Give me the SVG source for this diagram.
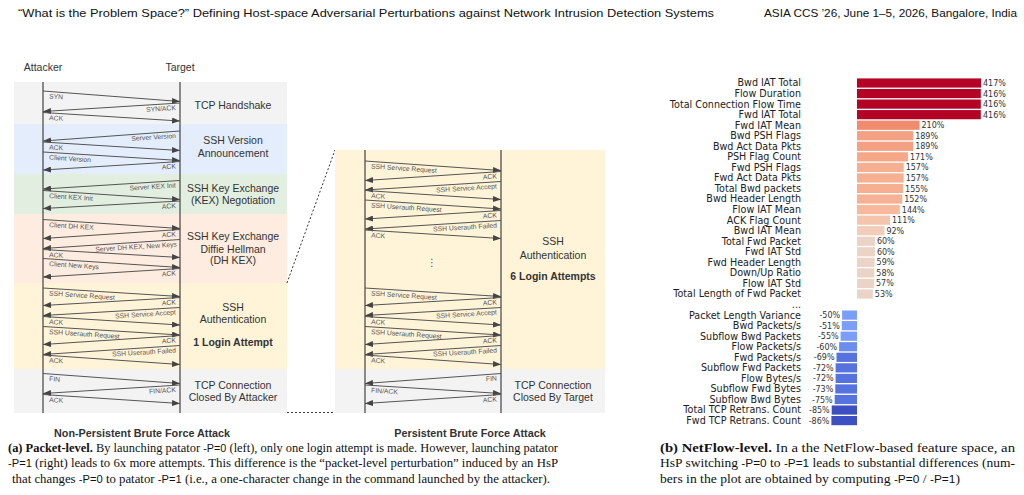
<svg xmlns="http://www.w3.org/2000/svg" width="1024" height="495" viewBox="0 0 1024 495">
<defs>
<marker id="ah" markerUnits="userSpaceOnUse" markerWidth="8" markerHeight="6" refX="8" refY="3" orient="auto">
<path d="M0,0 L8,3 L0,6 z" fill="#444"/>
</marker>
</defs>
<style>
.hdr{font-family:"Liberation Sans",Arial,sans-serif;font-size:11px;fill:#111}
.bt{font-family:"Liberation Sans",Arial,sans-serif;font-size:10.5px;fill:#333;text-anchor:middle}
.btb{font-family:"Liberation Sans",Arial,sans-serif;font-size:10.5px;fill:#333;text-anchor:middle;font-weight:bold}
.lbl{font-family:"Liberation Sans",Arial,sans-serif;font-size:6.8px;fill:#555}
.lr{font-family:"Liberation Sans",Arial,sans-serif;font-size:6.8px;fill:#555;text-anchor:end}
.msg{stroke:#555;stroke-width:1;marker-end:url(#ah)}
.life{stroke:#444;stroke-width:1.2}
.fl{font-family:"DejaVu Sans",sans-serif;font-size:9.6px;fill:#222;text-anchor:end}
.val{font-family:"DejaVu Sans",sans-serif;font-size:8px;fill:#333}
.valn{font-family:"DejaVu Sans",sans-serif;font-size:8px;fill:#333;text-anchor:end}
.cap{font-family:"Liberation Serif","Times New Roman",serif;font-size:12.6px;fill:#111}
.sf{font-family:"Liberation Sans",Arial,sans-serif;font-size:11px}
.sub{font-family:"Liberation Sans",Arial,sans-serif;font-size:10.8px;font-weight:bold;fill:#333;text-anchor:middle}
.dot{stroke:#333;stroke-width:1;stroke-dasharray:2 2;fill:none}
</style>

<g id="header">
<text class="hdr" x="18" y="17" textLength="696" lengthAdjust="spacingAndGlyphs">“What is the Problem Space?” Defining Host-space Adversarial Perturbations against Network Intrusion Detection Systems</text>
<text class="hdr" x="764" y="17" textLength="253" lengthAdjust="spacingAndGlyphs">ASIA CCS ’26, June 1–5, 2026, Bangalore, India</text>
</g>

<!-- Left sequence diagram -->
<g id="left-bands">
<rect x="14" y="82" width="273" height="42" fill="#f3f3f3"/>
<rect x="14" y="124" width="273" height="50" fill="#e4edfb"/>
<rect x="14" y="174" width="273" height="40" fill="#e2eee0"/>
<rect x="14" y="214" width="273" height="69" fill="#fdecdf"/>
<rect x="14" y="283" width="273" height="86" fill="#fff3d8"/>
<rect x="14" y="369" width="273" height="44" fill="#f3f3f3"/>
</g>
<g id="left-actors">
<text class="bt" x="43" y="71">Attacker</text>
<text class="bt" x="180" y="71">Target</text>
<line class="life" x1="43" y1="82" x2="43" y2="413"/>
<line class="life" x1="180" y1="82" x2="180" y2="413"/>
</g>
<g id="left-phase-tcp"><text class="bt" x="233" y="109.4">TCP Handshake</text></g>
<g id="left-phase-version"><text class="bt" x="233" y="144.4">SSH Version</text><text class="bt" x="233" y="157">Announcement</text></g>
<g id="left-phase-kex"><text class="bt" x="233" y="192">SSH Key Exchange</text><text class="bt" x="233" y="203.7">(KEX) Negotiation</text></g>
<g id="left-phase-dh"><text class="bt" x="233" y="240.4">SSH Key Exchange</text><text class="bt" x="233" y="253">Diffie Hellman</text><text class="bt" x="233" y="264.4">(DH KEX)</text></g>
<g id="left-phase-auth"><text class="bt" x="233" y="311.4">SSH</text><text class="bt" x="233" y="323">Authentication</text><text class="btb" x="233" y="346">1 Login Attempt</text></g>
<g id="left-phase-close"><text class="bt" x="233" y="388.7">TCP Connection</text><text class="bt" x="233" y="401">Closed By Attacker</text></g>

<g id="left-connectors">
<line class="msg" x1="43" y1="91" x2="180" y2="101.5"/>
<line class="msg" x1="180" y1="103" x2="43" y2="111.5"/>
<line class="msg" x1="43" y1="112.5" x2="180" y2="121"/>
<line class="msg" x1="180" y1="131" x2="43" y2="141"/>
<line class="msg" x1="43" y1="142" x2="180" y2="150.5"/>
<line class="msg" x1="43" y1="152" x2="180" y2="160.5"/>
<line class="msg" x1="180" y1="161.5" x2="43" y2="170"/>
<line class="msg" x1="180" y1="180.5" x2="43" y2="189"/>
<line class="msg" x1="43" y1="190.5" x2="180" y2="199.5"/>
<line class="msg" x1="180" y1="201" x2="43" y2="208.5"/>
<line class="msg" x1="43" y1="219.5" x2="180" y2="228.5"/>
<line class="msg" x1="180" y1="229.5" x2="43" y2="238.5"/>
<line class="msg" x1="180" y1="239.5" x2="43" y2="248.5"/>
<line class="msg" x1="43" y1="249.5" x2="180" y2="257.5"/>
<line class="msg" x1="43" y1="258.5" x2="180" y2="267.5"/>
<line class="msg" x1="180" y1="268.5" x2="43" y2="277"/>
<line class="msg" x1="43" y1="288" x2="180" y2="296.5"/>
<line class="msg" x1="180" y1="297.5" x2="43" y2="305.5"/>
<line class="msg" x1="180" y1="307.5" x2="43" y2="315.5"/>
<line class="msg" x1="43" y1="316.5" x2="180" y2="325"/>
<line class="msg" x1="43" y1="326.5" x2="180" y2="335"/>
<line class="msg" x1="180" y1="335.5" x2="43" y2="344.5"/>
<line class="msg" x1="180" y1="345.5" x2="43" y2="354.5"/>
<line class="msg" x1="43" y1="355" x2="180" y2="364.5"/>
<line class="msg" x1="43" y1="373.5" x2="180" y2="383.5"/>
<line class="msg" x1="180" y1="385" x2="43" y2="393.5"/>
<line class="msg" x1="43" y1="394.5" x2="180" y2="403.5"/>

<text class="lbl" x="49" y="98.5" transform="rotate(3.7 49 98.5)">SYN</text>
<text class="lr" x="176" y="110" transform="rotate(-3.7 176 110)">SYN/ACK</text>
<text class="lbl" x="49" y="120" transform="rotate(3.7 49 120)">ACK</text>
<text class="lr" x="176" y="138" transform="rotate(-3.7 176 138)">Server Version</text>
<text class="lbl" x="49" y="149.5" transform="rotate(3.7 49 149.5)">ACK</text>
<text class="lbl" x="49" y="159.5" transform="rotate(3.7 49 159.5)">Client Version</text>
<text class="lr" x="176" y="168.5" transform="rotate(-3.7 176 168.5)">ACK</text>
<text class="lr" x="176" y="187.5" transform="rotate(-3.7 176 187.5)">Server KEX Init</text>
<text class="lbl" x="49" y="198" transform="rotate(3.7 49 198)">Client KEX Init</text>
<text class="lr" x="176" y="208" transform="rotate(-3.7 176 208)">ACK</text>
<text class="lbl" x="49" y="227" transform="rotate(3.7 49 227)">Client DH KEX</text>
<text class="lr" x="176" y="236.5" transform="rotate(-3.7 176 236.5)">ACK</text>
<text class="lr" x="177" y="246.5" transform="rotate(-3.7 177 246.5)">Server DH KEX, New Keys</text>
<text class="lbl" x="49" y="257" transform="rotate(3.7 49 257)">ACK</text>
<text class="lbl" x="49" y="266" transform="rotate(3.7 49 266)">Client New Keys</text>
<text class="lr" x="176" y="275.5" transform="rotate(-3.7 176 275.5)">ACK</text>
<text class="lbl" x="49" y="295.5" transform="rotate(3.7 49 295.5)">SSH Service Request</text>
<text class="lr" x="176" y="304.5" transform="rotate(-3.7 176 304.5)">ACK</text>
<text class="lr" x="176" y="314.5" transform="rotate(-3.7 176 314.5)">SSH Service Accept</text>
<text class="lbl" x="49" y="324" transform="rotate(3.7 49 324)">ACK</text>
<text class="lbl" x="49" y="334" transform="rotate(3.7 49 334)">SSH Userauth Request</text>
<text class="lr" x="176" y="342.5" transform="rotate(-3.7 176 342.5)">ACK</text>
<text class="lr" x="176" y="352.5" transform="rotate(-3.7 176 352.5)">SSH Userauth Failed</text>
<text class="lbl" x="49" y="362.5" transform="rotate(3.7 49 362.5)">ACK</text>
<text class="lbl" x="49" y="381" transform="rotate(3.7 49 381)">FIN</text>
<text class="lr" x="176" y="392" transform="rotate(-3.7 176 392)">FIN/ACK</text>
<text class="lbl" x="49" y="402" transform="rotate(3.7 49 402)">ACK</text>
</g>

<!-- Zoom dotted lines -->
<g id="zoom-lines">
<line class="dot" x1="287" y1="283" x2="335" y2="150"/>
<line class="dot" x1="287" y1="412.5" x2="335" y2="412.5"/>
</g>

<!-- Right sequence diagram -->
<g id="right-bands">
<rect x="335" y="150" width="270" height="219" fill="#fff3d8"/>
<rect x="335" y="369" width="270" height="44" fill="#f3f3f3"/>
</g>
<g id="right-actors">
<line class="life" x1="365" y1="150" x2="365" y2="413"/>
<line class="life" x1="501" y1="150" x2="501" y2="413"/>
</g>
<g id="right-phase-auth"><text class="bt" x="553" y="245.4">SSH</text><text class="bt" x="553" y="258.7">Authentication</text><text class="btb" x="553" y="280.4">6 Login Attempts</text></g>
<g id="right-phase-close"><text class="bt" x="553" y="388.7">TCP Connection</text><text class="bt" x="553" y="401">Closed By Target</text></g>
<g id="right-ellipsis"><text x="432" y="266" style="font-family:'DejaVu Sans',sans-serif;font-size:10px;fill:#555;text-anchor:middle">⋮</text></g>

<g id="right-connectors">
<line class="msg" x1="365" y1="161" x2="501" y2="170.5"/>
<line class="msg" x1="501" y1="171.5" x2="365" y2="180.5"/>
<line class="msg" x1="501" y1="181.5" x2="365" y2="190"/>
<line class="msg" x1="365" y1="190.5" x2="501" y2="199.5"/>
<line class="msg" x1="365" y1="200" x2="501" y2="209"/>
<line class="msg" x1="501" y1="210.5" x2="365" y2="219"/>
<line class="msg" x1="501" y1="220.5" x2="365" y2="229"/>
<line class="msg" x1="365" y1="230" x2="501" y2="238.5"/>
<line class="msg" x1="365" y1="288" x2="501" y2="296.5"/>
<line class="msg" x1="501" y1="297.5" x2="365" y2="305.5"/>
<line class="msg" x1="501" y1="307.5" x2="365" y2="315.5"/>
<line class="msg" x1="365" y1="316.5" x2="501" y2="325"/>
<line class="msg" x1="365" y1="326.5" x2="501" y2="335"/>
<line class="msg" x1="501" y1="335.5" x2="365" y2="344.5"/>
<line class="msg" x1="501" y1="345.5" x2="365" y2="354.5"/>
<line class="msg" x1="365" y1="355" x2="501" y2="364.5"/>
<line class="msg" x1="501" y1="373.5" x2="365" y2="383.5"/>
<line class="msg" x1="365" y1="385" x2="501" y2="393.5"/>
<line class="msg" x1="501" y1="394.5" x2="365" y2="403.5"/>

<text class="lbl" x="371" y="168.5" transform="rotate(3.7 371 168.5)">SSH Service Request</text>
<text class="lr" x="497" y="178.5" transform="rotate(-3.7 497 178.5)">ACK</text>
<text class="lr" x="497" y="188.5" transform="rotate(-3.7 497 188.5)">SSH Service Accept</text>
<text class="lbl" x="371" y="198" transform="rotate(3.7 371 198)">ACK</text>
<text class="lbl" x="371" y="207.5" transform="rotate(3.7 371 207.5)">SSH Userauth Request</text>
<text class="lr" x="497" y="217.5" transform="rotate(-3.7 497 217.5)">ACK</text>
<text class="lr" x="497" y="227.5" transform="rotate(-3.7 497 227.5)">SSH Userauth Failed</text>
<text class="lbl" x="371" y="237.5" transform="rotate(3.7 371 237.5)">ACK</text>
<text class="lbl" x="371" y="295.5" transform="rotate(3.7 371 295.5)">SSH Service Request</text>
<text class="lr" x="497" y="304.5" transform="rotate(-3.7 497 304.5)">ACK</text>
<text class="lr" x="497" y="314.5" transform="rotate(-3.7 497 314.5)">SSH Service Accept</text>
<text class="lbl" x="371" y="324" transform="rotate(3.7 371 324)">ACK</text>
<text class="lbl" x="371" y="334" transform="rotate(3.7 371 334)">SSH Userauth Request</text>
<text class="lr" x="497" y="342.5" transform="rotate(-3.7 497 342.5)">ACK</text>
<text class="lr" x="497" y="352.5" transform="rotate(-3.7 497 352.5)">SSH Userauth Failed</text>
<text class="lbl" x="371" y="362.5" transform="rotate(3.7 371 362.5)">ACK</text>
<text class="lr" x="497" y="380.5" transform="rotate(-3.7 497 380.5)">FIN</text>
<text class="lbl" x="371" y="392.5" transform="rotate(3.7 371 392.5)">FIN/ACK</text>
<text class="lr" x="497" y="401.5" transform="rotate(-3.7 497 401.5)">ACK</text>
</g>

<g id="subtitles">
<text class="sub" x="142" y="437">Non-Persistent Brute Force Attack</text>
<text class="sub" x="470" y="437">Persistent Brute Force Attack</text>
</g>

<g id="caption-a">
<text class="cap" x="8" y="451.5" textLength="550" lengthAdjust="spacingAndGlyphs"><tspan font-weight="bold">(a) Packet-level.</tspan> By launching patator <tspan class="sf">-P=0</tspan> (left), only one login attempt is made. However, launching patator</text>
<text class="cap" x="8" y="467" textLength="550" lengthAdjust="spacingAndGlyphs"><tspan class="sf">-P=1</tspan> (right) leads to 6x more attempts. This difference is the “packet-level perturbation” induced by an HsP</text>
<text class="cap" x="12" y="482.5" textLength="538" lengthAdjust="spacingAndGlyphs">that changes <tspan class="sf">-P=0</tspan> to patator <tspan class="sf">-P=1</tspan> (i.e., a one-character change in the command launched by the attacker).</text>
</g>

<!-- Bar chart -->
<g id="bar-chart">
<g id="bars">
<rect x="857" y="78.4" width="124.1" height="9.2" fill="#b40426"/>
<rect x="857" y="88.95" width="123.8" height="9.2" fill="#b40426"/>
<rect x="857" y="99.5" width="123.8" height="9.2" fill="#b40426"/>
<rect x="857" y="110.05" width="123.8" height="9.2" fill="#b40426"/>
<rect x="857" y="120.6" width="62.5" height="9.2" fill="#f08b6e"/>
<rect x="857" y="131.15" width="56.2" height="9.2" fill="#f4a082"/>
<rect x="857" y="141.7" width="56.2" height="9.2" fill="#f4a082"/>
<rect x="857" y="152.25" width="50.9" height="9.2" fill="#f5a788"/>
<rect x="857" y="162.8" width="46.7" height="9.2" fill="#f6af91"/>
<rect x="857" y="173.35" width="46.7" height="9.2" fill="#f6af91"/>
<rect x="857" y="183.9" width="46.1" height="9.2" fill="#f6af91"/>
<rect x="857" y="194.45" width="45.2" height="9.2" fill="#f7b194"/>
<rect x="857" y="205" width="42.8" height="9.2" fill="#f7b89c"/>
<rect x="857" y="215.55" width="33.0" height="9.2" fill="#f4c5ad"/>
<rect x="857" y="226.1" width="27.4" height="9.2" fill="#f1cdba"/>
<rect x="857" y="236.65" width="17.9" height="9.2" fill="#ebd3c6"/>
<rect x="857" y="247.2" width="17.9" height="9.2" fill="#ebd3c6"/>
<rect x="857" y="257.75" width="17.6" height="9.2" fill="#ebd3c6"/>
<rect x="857" y="268.3" width="17.3" height="9.2" fill="#ebd3c6"/>
<rect x="857" y="278.85" width="17.0" height="9.2" fill="#ebd3c6"/>
<rect x="857" y="289.4" width="15.8" height="9.2" fill="#ead4c8"/>
<rect x="842.1" y="310.5" width="14.9" height="9.2" fill="#7b9ff9"/>
<rect x="841.8" y="321.05" width="15.2" height="9.2" fill="#7b9ff9"/>
<rect x="840.6" y="331.6" width="16.4" height="9.2" fill="#7b9ff9"/>
<rect x="839.1" y="342.15" width="17.9" height="9.2" fill="#6b8df0"/>
<rect x="836.5" y="352.7" width="20.5" height="9.2" fill="#5572df"/>
<rect x="835.6" y="363.25" width="21.4" height="9.2" fill="#5572df"/>
<rect x="835.6" y="373.8" width="21.4" height="9.2" fill="#5572df"/>
<rect x="835.3" y="384.35" width="21.7" height="9.2" fill="#5572df"/>
<rect x="834.7" y="394.9" width="22.3" height="9.2" fill="#5572df"/>
<rect x="831.7" y="405.45" width="25.3" height="9.2" fill="#3d50c3"/>
<rect x="831.4" y="416" width="25.6" height="9.2" fill="#3d50c3"/>
</g>
<g id="feature-labels">
<text class="fl" x="801" y="86.4">Bwd IAT Total</text>
<text class="fl" x="801" y="96.95">Flow Duration</text>
<text class="fl" x="801" y="107.5">Total Connection Flow Time</text>
<text class="fl" x="801" y="118.05">Fwd IAT Total</text>
<text class="fl" x="801" y="128.6">Fwd IAT Mean</text>
<text class="fl" x="801" y="139.15">Bwd PSH Flags</text>
<text class="fl" x="801" y="149.7">Bwd Act Data Pkts</text>
<text class="fl" x="801" y="160.25">PSH Flag Count</text>
<text class="fl" x="801" y="170.8">Fwd PSH Flags</text>
<text class="fl" x="801" y="181.35">Fwd Act Data Pkts</text>
<text class="fl" x="801" y="191.9">Total Bwd packets</text>
<text class="fl" x="801" y="202.45">Bwd Header Length</text>
<text class="fl" x="801" y="213">Flow IAT Mean</text>
<text class="fl" x="801" y="223.55">ACK Flag Count</text>
<text class="fl" x="801" y="234.1">Bwd IAT Mean</text>
<text class="fl" x="801" y="244.65">Total Fwd Packet</text>
<text class="fl" x="801" y="255.2">Fwd IAT Std</text>
<text class="fl" x="801" y="265.75">Fwd Header Length</text>
<text class="fl" x="801" y="276.3">Down/Up Ratio</text>
<text class="fl" x="801" y="286.85">Flow IAT Std</text>
<text class="fl" x="801" y="297.4">Total Length of Fwd Packet</text>
<text class="fl" x="801" y="307.95">...</text>
<text class="fl" x="801" y="318.5">Packet Length Variance</text>
<text class="fl" x="801" y="329.05">Bwd Packets/s</text>
<text class="fl" x="801" y="339.6">Subflow Bwd Packets</text>
<text class="fl" x="801" y="350.15">Flow Packets/s</text>
<text class="fl" x="801" y="360.7">Fwd Packets/s</text>
<text class="fl" x="801" y="371.25">Subflow Fwd Packets</text>
<text class="fl" x="801" y="381.8">Flow Bytes/s</text>
<text class="fl" x="801" y="392.35">Subflow Fwd Bytes</text>
<text class="fl" x="801" y="402.9">Subflow Bwd Bytes</text>
<text class="fl" x="801" y="413.45">Total TCP Retrans. Count</text>
<text class="fl" x="801" y="424">Fwd TCP Retrans. Count</text>
</g>
<g id="value-labels">
<text class="val" x="983" y="86">417%</text>
<text class="val" x="983" y="96.55">416%</text>
<text class="val" x="983" y="107.1">416%</text>
<text class="val" x="983" y="117.65">416%</text>
<text class="val" x="921.5" y="128.2">210%</text>
<text class="val" x="915.2" y="138.75">189%</text>
<text class="val" x="915.2" y="149.3">189%</text>
<text class="val" x="909.9" y="159.85">171%</text>
<text class="val" x="905.7" y="170.4">157%</text>
<text class="val" x="905.7" y="180.95">157%</text>
<text class="val" x="905.1" y="191.5">155%</text>
<text class="val" x="904.2" y="202.05">152%</text>
<text class="val" x="901.8" y="212.6">144%</text>
<text class="val" x="892" y="223.15">111%</text>
<text class="val" x="886.4" y="233.7">92%</text>
<text class="val" x="876.9" y="244.25">60%</text>
<text class="val" x="876.9" y="254.8">60%</text>
<text class="val" x="876.6" y="265.35">59%</text>
<text class="val" x="876.3" y="275.9">58%</text>
<text class="val" x="876" y="286.45">57%</text>
<text class="val" x="874.8" y="297">53%</text>
<text class="valn" x="840.1" y="318.1">-50%</text>
<text class="valn" x="839.8" y="328.65">-51%</text>
<text class="valn" x="838.6" y="339.2">-55%</text>
<text class="valn" x="837.1" y="349.75">-60%</text>
<text class="valn" x="834.5" y="360.3">-69%</text>
<text class="valn" x="833.6" y="370.85">-72%</text>
<text class="valn" x="833.6" y="381.4">-72%</text>
<text class="valn" x="833.3" y="391.95">-73%</text>
<text class="valn" x="832.7" y="402.5">-75%</text>
<text class="valn" x="829.7" y="413.05">-85%</text>
<text class="valn" x="829.4" y="423.6">-86%</text>
</g>
</g>

<g id="caption-b">
<text class="cap" x="660" y="451.5" textLength="355" lengthAdjust="spacingAndGlyphs"><tspan font-weight="bold">(b) NetFlow-level.</tspan> In a the NetFlow-based feature space, an</text>
<text class="cap" x="660" y="467" textLength="355" lengthAdjust="spacingAndGlyphs">HsP switching <tspan class="sf">-P=0</tspan> to <tspan class="sf">-P=1</tspan> leads to substantial differences (num-</text>
<text class="cap" x="660" y="482.5" textLength="300" lengthAdjust="spacingAndGlyphs">bers in the plot are obtained by computing <tspan class="sf">-P=0</tspan> / <tspan class="sf">-P=1</tspan>)</text>
</g>
</svg>
